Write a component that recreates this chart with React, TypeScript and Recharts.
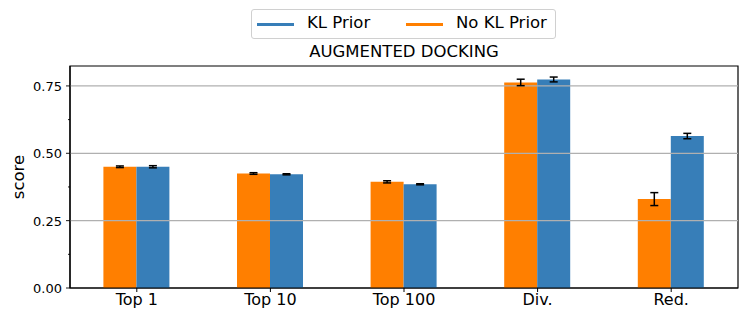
import React from "react";
import {
  BarChart,
  Bar,
  XAxis,
  YAxis,
  ErrorBar,
  ReferenceLine,
  ReferenceArea,
} from "recharts";

const categories = ["Top 1", "Top 10", "Top 100", "Div.", "Red."];
const noKlPrior = [0.45, 0.425, 0.394, 0.763, 0.33];
const noKlPriorErr = [0.003, 0.003, 0.004, 0.012, 0.024];
const klPrior = [0.45, 0.422, 0.385, 0.774, 0.564];
const klPriorErr = [0.004, 0.002, 0.002, 0.009, 0.01];

const yTicks = [0, 0.125, 0.25, 0.375, 0.5, 0.625, 0.75];
const majorTicks = [0, 0.25, 0.5, 0.75];
const gridLines = [0.25, 0.5, 0.75];
const yMax = 0.824;

const BLUE = "#377eb8";
const ORANGE = "#ff7f00";
const FONT = "DejaVu Sans, sans-serif";
const Y_AXIS_W = 70;

const data = categories.map((name, i) => ({
  name,
  noKl: noKlPrior[i],
  noKlErr: noKlPriorErr[i],
  kl: klPrior[i],
  klErr: klPriorErr[i],
}));

function YTick(props: any) {
  const { y, payload } = props;
  const v = payload.value as number;
  const major = majorTicks.includes(v);
  const ax = Y_AXIS_W;
  return (
    <g>
      <line x1={ax} x2={ax - (major ? 4 : 2)} y1={y} y2={y} stroke="#000" strokeWidth={0.9} />
      {major && (
        <text
          x={ax - 8}
          y={y}
          dy={5}
          textAnchor="end"
          fontSize={13}
          fontFamily={FONT}
          fill="#000"
        >
          {v.toFixed(2)}
        </text>
      )}
    </g>
  );
}

export default function App() {
  return (
    <div style={{ position: "absolute", left: 0, top: 0, width: 748, height: 324, background: "#fff", fontFamily: FONT }}>
      <div
        style={{
          position: "absolute",
          left: 251,
          top: 9,
          width: 305,
          height: 30,
          border: "1px solid #d0d0d0",
          borderRadius: 3,
          boxSizing: "border-box",
          zIndex: 2,
          background: "#fff",
        }}
      >
        <div style={{ position: "absolute", left: 5, top: 13, width: 37, height: 3, background: BLUE }} />
        <div style={{ position: "absolute", left: 55, top: 3, fontSize: 16.5, color: "#000", whiteSpace: "nowrap" }}>KL Prior</div>
        <div style={{ position: "absolute", left: 154, top: 13, width: 37, height: 3, background: ORANGE }} />
        <div style={{ position: "absolute", left: 204, top: 3, fontSize: 16.5, color: "#000", whiteSpace: "nowrap" }}>No KL Prior</div>
      </div>
      <div
        style={{
          position: "absolute",
          left: 70,
          width: 668,
          top: 42,
          textAlign: "center",
          fontSize: 16.5,
          color: "#000",
        }}
      >
        AUGMENTED DOCKING
      </div>
      <div
        style={{
          position: "absolute",
          left: 8,
          top: 177,
          transform: "translate(-50%, -50%) rotate(-90deg)",
          transformOrigin: "center",
          marginLeft: 10,
          fontSize: 16.5,
          color: "#000",
        }}
      >
        score
      </div>
      <BarChart
        width={748}
        height={324}
        data={data}
        margin={{ top: 66, right: 10, left: 0, bottom: 0 }}
        barCategoryGap="25%"
        barGap={0}
      >
        {gridLines.map((g) => (
          <ReferenceLine key={g} y={g} stroke="#b0b0b0" strokeWidth={1.2} />
        ))}
        <XAxis
          dataKey="name"
          height={36}
          axisLine={{ stroke: "#000", strokeWidth: 1.2 }}
          tickLine={{ stroke: "#000" }}
          tickSize={4}
          tickMargin={2}
          tick={{ fill: "#000", fontSize: 16, fontFamily: FONT }}
          interval={0}
        />
        <YAxis
          width={Y_AXIS_W}
          domain={[0, yMax]}
          ticks={yTicks}
          interval={0}
          tickLine={false}
          tick={<YTick />}
          axisLine={{ stroke: "#000", strokeWidth: 1.2 }}
          allowDataOverflow
        />
        <Bar dataKey="noKl" fill={ORANGE} isAnimationActive={false}>
          <ErrorBar dataKey="noKlErr" width={4} stroke="#000" strokeWidth={1.5} />
        </Bar>
        <Bar dataKey="kl" fill={BLUE} isAnimationActive={false}>
          <ErrorBar dataKey="klErr" width={4} stroke="#000" strokeWidth={1.5} />
        </Bar>
        <ReferenceArea y1={0} y2={yMax} fill="none" fillOpacity={0} stroke="#000" strokeWidth={1.2} ifOverflow="visible" />
      </BarChart>
    </div>
  );
}
